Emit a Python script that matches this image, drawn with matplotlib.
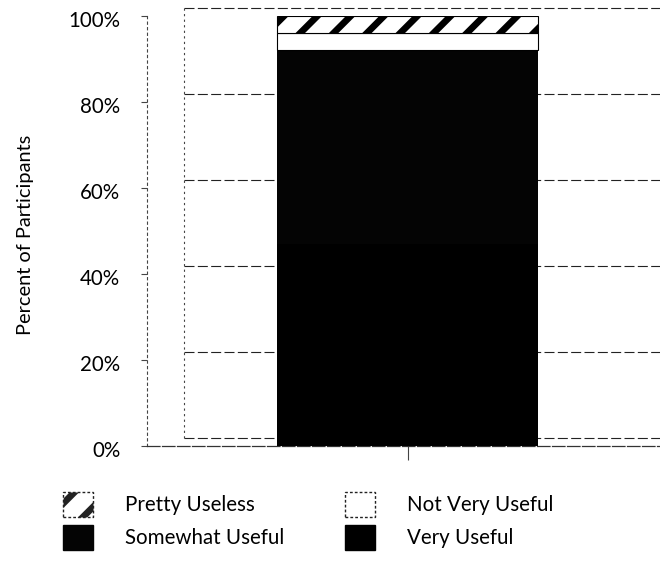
import matplotlib
matplotlib.use('Agg')
import matplotlib.pyplot as plt
from matplotlib.patches import Patch
from matplotlib.transforms import ScaledTranslation

categories = ['']
very_useful = [47]
somewhat_useful = [45]
not_very_useful = [4]
pretty_useless = [4]
y_ticks = [0, 20, 40, 60, 80, 100]
y_tick_labels = ['0%', '20%', '40%', '60%', '80%', '100%']

plt.rcParams['font.family'] = ['Lato', 'DejaVu Sans']
plt.rcParams['hatch.linewidth'] = 2.4
plt.rcParams['hatch.color'] = 'black'

# 200 dpi figure so the hatch pattern is coarse; sizes in pt are halved
DPI = 200
W, H = 660, 564
fig = plt.figure(figsize=(W / DPI, H / DPI), dpi=DPI)
ax = fig.add_axes([147 / W, 1 - 446 / H, (660 - 147) / W, (446 - 16) / H])

x = list(range(len(categories)))
bottoms = [0] * len(categories)
specs = [
    ('Very Useful', very_useful, dict(color='#000000')),
    ('Somewhat Useful', somewhat_useful, dict(color='#040404')),
    ('Not Very Useful', not_very_useful, dict(facecolor='white', edgecolor='black')),
    ('Pretty Useless', pretty_useless, dict(facecolor='white', edgecolor='black', hatch='//')),
]
for name, vals, style in specs:
    ax.bar(x, vals, width=1.0, bottom=bottoms, linewidth=0.4, label=name, zorder=3, **style)
    bottoms = [bt + v for bt, v in zip(bottoms, vals)]

ax.set_xlim(-0.998, 0.967)
ax.set_ylim(0, 100)
ax.set_yticks(y_ticks)
ax.set_yticklabels(y_tick_labels, fontsize=7.4)
ax.tick_params(axis='y', length=2.0, width=0.4, pad=7.6, color='#444444')
shift = ScaledTranslation(0, -3 / DPI, fig.dpi_scale_trans)
for lab in ax.get_yticklabels():
    lab.set_transform(lab.get_transform() + shift)
ax.set_xticks(x)
ax.set_xticklabels(categories)
ax.tick_params(axis='x', length=5, width=0.4, color='#444444')

back = 1.86
wall = (184 - 147) / (660 - 147)
for yv in y_ticks:
    ax.axhline(yv + back, xmin=wall, xmax=1.0, color='#222222', linewidth=0.4,
               linestyle=(0, (9, 3)), zorder=1, clip_on=False)
ax.plot([wall, wall], [back / 100, 1.0 + back / 100], transform=ax.transAxes,
        color='#444444', linewidth=0.4, linestyle=(0, (2, 3)), zorder=1, clip_on=False)

for side in ['top', 'right']:
    ax.spines[side].set_visible(False)
ax.spines['left'].set_linestyle((0, (2, 3)))
ax.spines['left'].set_linewidth(0.4)
ax.spines['left'].set_color('#444444')
ax.spines['bottom'].set_linestyle((0, (10, 2)))
ax.spines['bottom'].set_linewidth(0.45)
ax.spines['bottom'].set_color('#333333')

ax.set_ylabel('Percent of Participants', fontsize=7.2)
ax.yaxis.set_label_coords(-0.220, 0.49)

def legend_handle(name):
    style = dict(next(s for n, _, s in specs if n == name))
    if style.get('facecolor') == 'white':
        style['linestyle'] = (0, (2, 1.5))
        style['edgecolor'] = '#222222'
    return Patch(label=name, linewidth=0.5, **style)

leg_kw = dict(loc='upper left', frameon=False, fontsize=7.4, handlelength=1.45,
              handleheight=1.5, handletextpad=1.55, labelspacing=0.38,
              borderpad=0, borderaxespad=0)
col1 = ['Pretty Useless', 'Somewhat Useful']
col2 = ['Not Very Useful', 'Very Useful']
leg1 = fig.legend(handles=[legend_handle(n) for n in col1], labels=col1,
                  bbox_to_anchor=(63 / W, 1 - 492 / H), **leg_kw)
leg2 = fig.legend(handles=[legend_handle(n) for n in col2], labels=col2,
                  bbox_to_anchor=(345 / W, 1 - 492 / H), **leg_kw)

fig.savefig('out.png', dpi=DPI, facecolor='white')
